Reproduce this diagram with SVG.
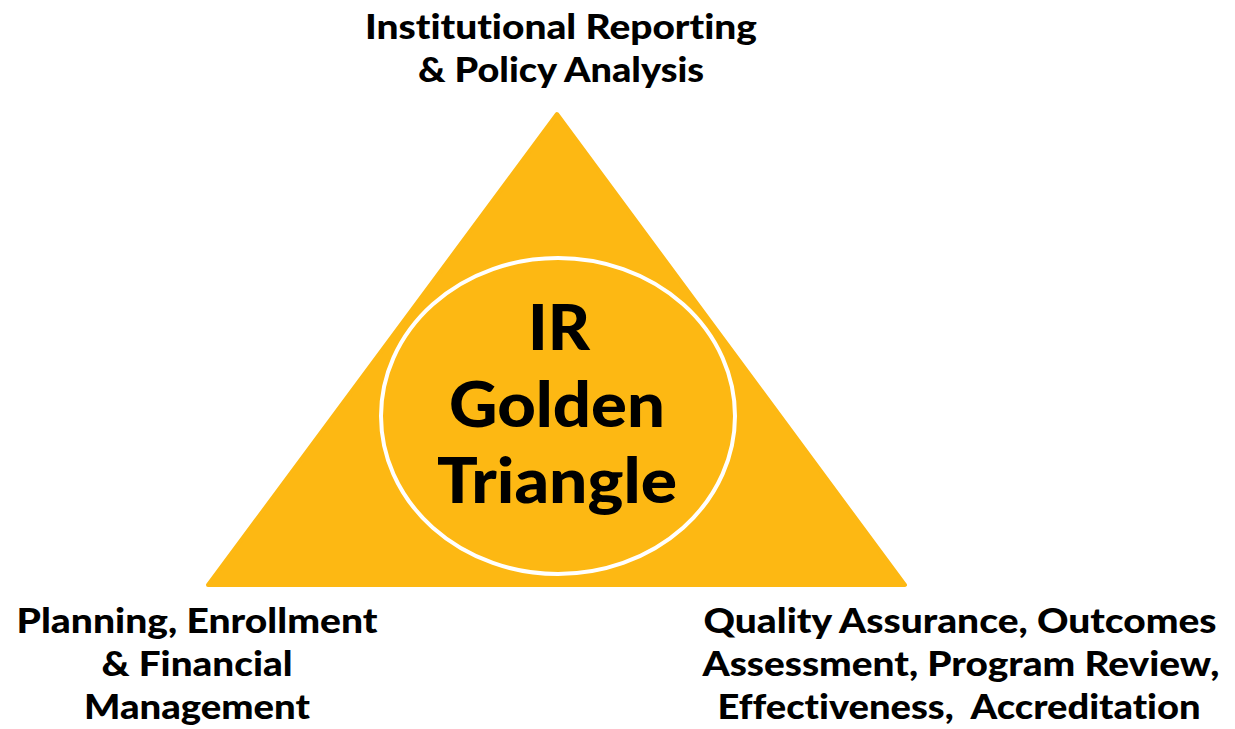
<svg xmlns="http://www.w3.org/2000/svg" width="1235" height="729" viewBox="0 0 1235 729">
<style>
.lbl,.ctr{font-family:"Lato","Open Sans","Liberation Sans",sans-serif;font-weight:900;fill:#000;text-anchor:middle;font-variant-ligatures:none;font-feature-settings:"liga" 0,"clig" 0}
.lbl{font-size:34px}
.ctr{font-size:63px}
</style>
<rect width="1235" height="729" fill="#fff"/>
<g id="triangle">
<path d="M557,114 L905,585 L208,585 Z" fill="#FDB813" stroke="#FDB813" stroke-width="4" stroke-linejoin="round"/>
</g>
<g id="center">
<ellipse cx="558" cy="416" rx="177" ry="158" fill="#FDB813" stroke="#fff" stroke-width="4"/>
<text class="ctr" x="559" y="350" textLength="62" lengthAdjust="spacingAndGlyphs">IR</text>
<text class="ctr" x="557" y="427" textLength="216" lengthAdjust="spacingAndGlyphs">Golden</text>
<text class="ctr" x="557" y="503" textLength="240" lengthAdjust="spacingAndGlyphs">Triangle</text>
</g>
<g id="top">
<text class="lbl" x="561" y="39" textLength="392" lengthAdjust="spacingAndGlyphs">Institutional Reporting</text>
<text class="lbl" x="561" y="82" textLength="286" lengthAdjust="spacingAndGlyphs">&amp; Policy Analysis</text>
</g>
<g id="left">
<text class="lbl" x="197" y="633" textLength="361" lengthAdjust="spacingAndGlyphs">Planning, Enrollment</text>
<text class="lbl" x="197" y="676" textLength="191" lengthAdjust="spacingAndGlyphs">&amp; Financial</text>
<text class="lbl" x="197" y="719" textLength="226" lengthAdjust="spacingAndGlyphs">Management</text>
</g>
<g id="right">
<text class="lbl" x="960" y="633" textLength="513" lengthAdjust="spacingAndGlyphs">Quality Assurance, Outcomes</text>
<text class="lbl" x="961" y="676" textLength="517" lengthAdjust="spacingAndGlyphs">Assessment, Program Review,</text>
<text class="lbl" x="959" y="719" textLength="483" lengthAdjust="spacingAndGlyphs" xml:space="preserve">Effectiveness,  Accreditation</text>
</g>
</svg>
